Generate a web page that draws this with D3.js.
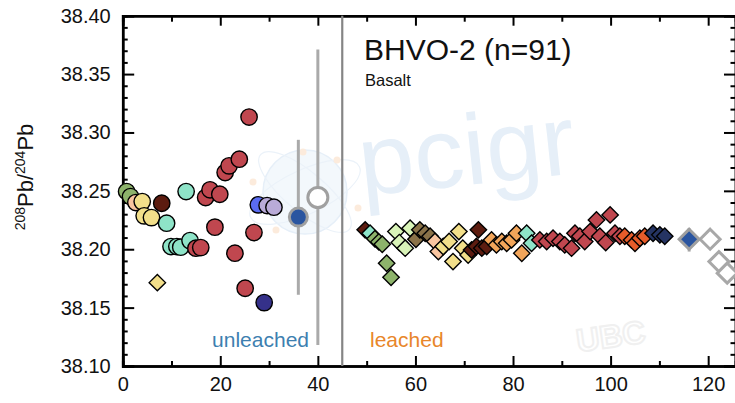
<!DOCTYPE html>
<html>
<head>
<meta charset="utf-8">
<script src="https://cdn.jsdelivr.net/npm/d3@7"></script>
<style>
  html, body { margin: 0; padding: 0; background: #fff; }
  svg { display: block; }
  text { font-family: "Liberation Sans", Arial, Helvetica, sans-serif; }
</style>
</head>
<body>
<svg id="chart" width="735" height="403"></svg>
<script>
// ---------- DATA ----------
// unleached analyses (circles)
const unleachedX = [0.8, 1.6, 2.7, 4.0, 4.4, 5.9, 8.0, 9.0, 9.9, 11.1, 11.9, 13.0, 13.8,
  15.0, 16.0, 17.0, 17.9, 18.9, 19.9, 21.0, 21.8, 23.0, 23.9, 25.1, 25.9, 26.9, 27.8, 29.0, 29.6, 31.0];
const unleachedY = [38.2494, 38.2451, 38.2400, 38.2408, 38.2286, 38.2271, 38.2394, 38.2223, 38.2023, 38.2023, 38.2018, 38.2494, 38.2074,
  38.2009, 38.2014, 38.2443, 38.2509, 38.2189, 38.2471, 38.2657, 38.2714, 38.1966, 38.2771, 38.1666, 38.3132, 38.2143, 38.2380, 38.1543, 38.2374, 38.2360];
const unleachedLab = ["G", "G", "P", "Y", "Y", "Y", "DB", "M", "M", "M", "M", "M", "M",
  "R", "R", "R", "R", "R", "R", "R", "R", "R", "R", "R", "R", "R", "B", "N", "L", "L"];

// leached analyses (diamonds)
const leachedX = [7.1, 49.7, 50.7, 51.7, 52.5, 53.2, 54.1, 55.0, 56.0, 56.7, 57.9, 58.9, 60.1, 60.9, 62.0, 63.0,
  64.0, 64.7, 65.7, 66.9, 67.7, 68.9, 69.7, 70.8, 71.5, 72.5, 72.9, 73.6, 74.6,
  75.6, 76.6, 77.7, 78.7, 79.7, 80.7, 81.8, 82.8, 83.8,
  85.5, 86.9, 88.2, 89.6, 90.6, 92.0, 92.7, 93.7, 94.7, 95.8, 97.1, 97.8, 99.0, 99.9, 100.9, 101.9,
  102.9, 104.3, 105.0, 106.0, 107.0, 108.7, 110.1, 111.1];
const leachedY = [38.1714, 38.2166, 38.2137, 38.2090, 38.2063, 38.2043, 38.1880, 38.1760, 38.2151, 38.2057, 38.2009, 38.2180, 38.2086, 38.2166, 38.2137, 38.2111,
  38.2066, 38.1980, 38.2023, 38.2066, 38.1894, 38.2151, 38.2009, 38.1951, 38.1994, 38.2023, 38.2166, 38.2009, 38.2023,
  38.2080, 38.2037, 38.2066, 38.2051, 38.2080, 38.2137, 38.1966, 38.2137, 38.2051,
  38.2080, 38.2066, 38.2094, 38.2066, 38.2037, 38.2009, 38.2137, 38.2111, 38.2066, 38.2151, 38.2251, 38.2111, 38.2057, 38.2294, 38.2137, 38.2111,
  38.2111, 38.2080, 38.2051, 38.2094, 38.2111, 38.2137, 38.2123, 38.2111];
const leachedLab = ["Y", "DB", "M", "G", "G", "G", "G", "G", "LG", "LG", "LG", "LG", "O", "O", "O", "O",
  "P", "P", "Y", "Y", "Y", "Y", "Y", "Y", "DB", "DB", "DB", "DB", "DB",
  "S", "S", "S", "S", "S", "S", "S", "M", "M",
  "R", "R", "R", "R", "R", "R", "R", "R", "R", "R", "R", "R", "R", "R", "R", "R",
  "OR", "OR", "OR", "OR", "OR", "NV", "NV", "NV"];

// summary values: [x, value, low, high]
const unleachedMean = [36, 38.2275, 38.161, 38.2937];
const unleachedRef = [40, 38.2443, 38.118, 38.371];
const leachedMean = [116.1, 38.2086, 38.198, 38.218];
// published reference values (open diamonds)
const refX = [120.4, 122.2, 123.9];
const refY = [38.2086, 38.1894, 38.1795];

const xMajorTicks = [0, 20, 40, 60, 80, 100, 120];
const yMajorTicks = [38.10, 38.15, 38.20, 38.25, 38.30, 38.35, 38.40];
const splitAt = 45;

const title = "BHVO-2 (n=91)";
const subtitle = "Basalt";

// ---------- STYLE ----------
const labColors = {
  G: "#8db36b", P: "#f9c5a0", Y: "#f2df8a", DB: "#5c1c10", M: "#8ee4c8", R: "#c0474f",
  B: "#5a6cf2", N: "#35318a", L: "#b9abd8", LG: "#d9f4b8", O: "#8a7248", S: "#f2a55a",
  OR: "#e65c2a", NV: "#253463"
};

const svg = d3.select("#chart");
const x = d3.scaleLinear().domain([0, 125.6]).range([122.7, 735.5]);
const y = d3.scaleLinear().domain([38.10, 38.40]).range([366, 15.7]);
const color = d3.scaleOrdinal().domain(Object.keys(labColors)).range(Object.values(labColors));

// ---------- watermark (faint, decorative) ----------
const wm = svg.append("g").attr("class", "watermark");
wm.append("circle").attr("cx", 305).attr("cy", 192).attr("r", 42)
  .attr("fill", "#f3f8fc").attr("stroke", "#e6eff8").attr("stroke-width", 1.5);
wm.append("ellipse").attr("cx", 305).attr("cy", 192).attr("rx", 60).attr("ry", 22)
  .attr("transform", "rotate(-25,305,192)").attr("fill", "none").attr("stroke", "#ebf2f9").attr("stroke-width", 1.2);
wm.append("ellipse").attr("cx", 305).attr("cy", 192).attr("rx", 58).attr("ry", 20)
  .attr("transform", "rotate(40,305,192)").attr("fill", "none").attr("stroke", "#ebf2f9").attr("stroke-width", 1.2);
[[303,152],[337,160],[358,208],[276,230],[253,182]].forEach(p => {
  wm.append("circle").attr("cx", p[0]).attr("cy", p[1]).attr("r", 3.5).attr("fill", "#fcebdc");
});
wm.append("text").attr("x", 362).attr("y", 196).attr("transform", "rotate(-6,362,196)")
  .attr("font-family", "'Open Sans', Lato, sans-serif").attr("font-weight", 300)
  .attr("font-size", 100).attr("fill", "#e6eff8").text("pcigr");
wm.append("text").attr("x", 578).attr("y", 352).attr("transform", "rotate(-8,578,352)")
  .attr("font-size", 32).attr("font-weight", "bold").attr("fill", "none")
  .attr("stroke", "#f0f0f0").attr("stroke-width", 2).text("UBC");

// ---------- axes ----------
function styleAxis(g) {
  g.select(".domain").attr("stroke", "#000").attr("stroke-width", 2.5);
  g.selectAll(".tick line").attr("stroke", "#000").attr("stroke-width", 2);
  g.selectAll("text").attr("font-size", 20).attr("fill", "#111")
    .attr("font-family", "'Liberation Sans', Arial, sans-serif");
}
const xMinor = d3.range(10, 126, 20);
const yMinor = d3.range(0, 31).map(i => 38.10 + i * 0.01).filter(v => Math.round(v * 100) % 5 !== 0);

// bottom
svg.append("g").attr("transform", `translate(0,${y(38.10)})`)
  .call(d3.axisBottom(x).tickValues(xMajorTicks).tickSize(-10).tickPadding(11).tickFormat(d3.format("d")))
  .call(styleAxis);
svg.append("g").attr("transform", `translate(0,${y(38.10)})`)
  .call(d3.axisBottom(x).tickValues(xMinor).tickSize(-5).tickFormat(""))
  .call(styleAxis);
// top
svg.append("g").attr("transform", `translate(0,${y(38.40)})`)
  .call(d3.axisTop(x).tickValues(xMajorTicks).tickSize(-10).tickFormat(""))
  .call(styleAxis);
svg.append("g").attr("transform", `translate(0,${y(38.40)})`)
  .call(d3.axisTop(x).tickValues(xMinor).tickSize(-6).tickFormat(""))
  .call(styleAxis);
// left
svg.append("g").attr("transform", `translate(${x(0)},0)`)
  .call(d3.axisLeft(y).tickValues(yMajorTicks).tickSize(-11.5).tickPadding(12).tickFormat(d3.format(".2f")))
  .call(styleAxis);
svg.append("g").attr("transform", `translate(${x(0)},0)`)
  .call(d3.axisLeft(y).tickValues(yMinor).tickSize(-5).tickFormat(""))
  .call(styleAxis);
// right
svg.append("g").attr("transform", `translate(${x(125.6)},0)`)
  .call(d3.axisRight(y).tickValues(yMajorTicks).tickSize(-11.5).tickFormat(""))
  .call(styleAxis);
svg.append("g").attr("transform", `translate(${x(125.6)},0)`)
  .call(d3.axisRight(y).tickValues(yMinor).tickSize(-5).tickFormat(""))
  .call(styleAxis);

// divider
svg.append("line").attr("x1", x(splitAt)).attr("x2", x(splitAt))
  .attr("y1", y(38.40)).attr("y2", y(38.10))
  .attr("stroke", "#858585").attr("stroke-width", 2.2);

// y label
const yl = svg.append("text").attr("transform", "translate(33,177) rotate(-90)")
  .attr("text-anchor", "middle").attr("font-size", 22).attr("fill", "#111");
yl.append("tspan").attr("font-size", 14).attr("dy", -8).text("208");
yl.append("tspan").attr("dy", 8).text("Pb/");
yl.append("tspan").attr("font-size", 14).attr("dy", -8).text("204");
yl.append("tspan").attr("dy", 8).text("Pb");

// title
svg.append("text").attr("x", 364).attr("y", 60).attr("font-size", 30).attr("fill", "#111").text(title);
svg.append("text").attr("x", 365).attr("y", 86).attr("font-size", 16.5).attr("fill", "#111").text(subtitle);

// labels
svg.append("text").attr("x", 309).attr("y", 347).attr("text-anchor", "end")
  .attr("font-size", 21).attr("fill", "#3d7fb0").text("unleached");
svg.append("text").attr("x", 370).attr("y", 347)
  .attr("font-size", 21).attr("fill", "#e8862a").text("leached");

// ---------- error bars & means ----------
function errBar(d) {
  svg.append("line").attr("x1", x(d[0])).attr("x2", x(d[0]))
    .attr("y1", y(d[2])).attr("y2", y(d[3]))
    .attr("stroke", "#aaaaaa").attr("stroke-width", 3);
}
errBar(unleachedMean);
errBar(unleachedRef);
errBar(leachedMean);

// ---------- data points ----------
const circles = unleachedX.map((v, i) => ({ x: v, y: unleachedY[i], lab: unleachedLab[i] }));
svg.append("g").selectAll("circle").data(circles).join("circle")
  .attr("cx", d => x(d.x)).attr("cy", d => y(d.y)).attr("r", 8.2)
  .attr("fill", d => color(d.lab)).attr("stroke", "#000").attr("stroke-width", 1.4);

const diamond = (h) => `M0,${-h}L${h},0L0,${h}L${-h},0Z`;
const diamonds = leachedX.map((v, i) => ({ x: v, y: leachedY[i], lab: leachedLab[i] }));
svg.append("g").selectAll("path").data(diamonds).join("path")
  .attr("transform", d => `translate(${x(d.x)},${y(d.y)})`)
  .attr("d", diamond(8.2))
  .attr("fill", d => color(d.lab)).attr("stroke", "#000").attr("stroke-width", 1.4)
  .attr("stroke-linejoin", "miter");

// mean markers
svg.append("circle").attr("cx", x(unleachedMean[0])).attr("cy", y(unleachedMean[1])).attr("r", 9)
  .attr("fill", "#2a55a0").attr("stroke", "#a0a0a0").attr("stroke-width", 3);
svg.append("circle").attr("cx", x(unleachedRef[0])).attr("cy", y(unleachedRef[1])).attr("r", 10)
  .attr("fill", "#fff").attr("stroke", "#a0a0a0").attr("stroke-width", 3);

const refs = refX.map((v, i) => ({ x: v, y: refY[i] }));
svg.append("g").selectAll("path").data(refs).join("path")
  .attr("transform", d => `translate(${x(d.x)},${y(d.y)})`)
  .attr("d", diamond(10))
  .attr("fill", "#fff").attr("stroke", "#a8a8a8").attr("stroke-width", 3);
svg.append("path").attr("transform", `translate(${x(leachedMean[0])},${y(leachedMean[1])})`)
  .attr("d", diamond(10))
  .attr("fill", "#2a55a0").attr("stroke", "#a0a0a0").attr("stroke-width", 3);
</script>
</body>
</html>
